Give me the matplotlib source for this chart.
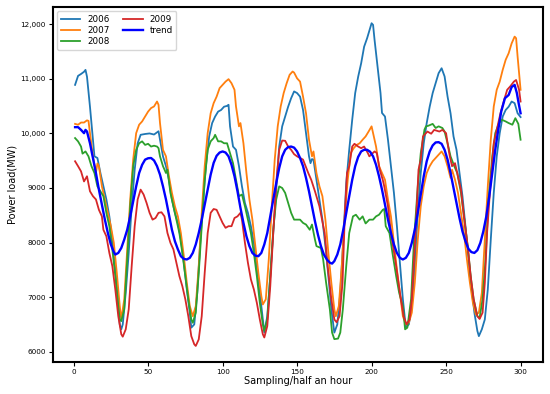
import numpy as np
import matplotlib.pyplot as plt

# values, (sample, MW)
s2006 = [(1, 10890), (3, 11055), (5, 11090), (7, 11130), (8, 11165), (9, 11040), (11, 10490), (13, 9885),
         (14, 9580), (16, 9550), (18, 9275), (20, 9030), (22, 8790), (24, 8480), (26, 8055), (28, 7505),
         (30, 6840), (31, 6500), (32, 6410), (33, 6500), (35, 7080), (37, 7810), (39, 8665), (41, 9335),
         (43, 9820), (45, 9975), (48, 9990), (51, 10000), (54, 9980), (57, 10040), (58, 9885), (60, 9580),
         (62, 9400), (64, 9150), (66, 8790), (68, 8545), (70, 8360), (72, 8055), (74, 7630), (76, 7140),
         (78, 6715), (79, 6440), (81, 6500), (83, 7080), (85, 7995), (87, 8790), (89, 9455), (91, 9945),
         (93, 10190), (95, 10310), (97, 10400), (99, 10430), (101, 10490), (103, 10505), (104, 10525),
         (105, 10130), (107, 9760), (109, 9700), (111, 9400), (113, 9030), (115, 8725), (117, 8545),
         (119, 8300), (121, 7995), (123, 7570), (125, 7080), (127, 6590), (128, 6350), (130, 6650),
         (132, 7385), (134, 8175), (136, 8970), (138, 9760), (140, 10130), (142, 10310), (144, 10490),
         (146, 10645), (148, 10770), (150, 10740), (152, 10675), (154, 10430), (156, 10005), (158, 9580),
         (159, 9455), (160, 9530), (161, 9520), (163, 9150), (165, 8790), (167, 8420), (169, 7935),
         (171, 7385), (173, 6775), (175, 6350), (177, 6500), (179, 7080), (181, 8055), (183, 9090),
         (185, 9700), (187, 10250), (189, 10740), (191, 11040), (193, 11285), (195, 11590), (197, 11745),
         (198, 11835), (200, 12020), (201, 11990), (202, 11715), (204, 11225), (206, 10740), (207, 10375),
         (209, 10310), (211, 9885), (213, 9400), (215, 8910), (217, 8300), (219, 7630), (221, 6960),
         (223, 6440), (225, 6500), (227, 6835), (229, 7570), (231, 8545), (233, 9275), (235, 9820),
         (237, 10190), (239, 10490), (241, 10740), (243, 10920), (245, 11105), (247, 11195), (249, 11045),
         (251, 10675), (253, 10370), (255, 9945), (257, 9700), (259, 9275), (261, 8850), (263, 8300),
         (265, 7750), (267, 7200), (269, 6715), (271, 6380), (272, 6285), (274, 6410), (276, 6590),
         (278, 7140), (280, 8055), (282, 8910), (284, 9580), (286, 10005), (288, 10310), (290, 10430),
         (292, 10490), (294, 10585), (296, 10555), (298, 10370), (300, 10300)]

s2007 = [(1, 10175), (3, 10160), (5, 10200), (7, 10200), (9, 10240), (10, 10230), (11, 10005), (13, 9580),
         (15, 9275), (16, 9450), (17, 9400), (19, 9030), (21, 8790), (23, 8545), (25, 8300), (27, 7995),
         (29, 7445), (31, 6835), (32, 6590), (34, 6960), (36, 7875), (38, 8790), (40, 9520), (42, 10005),
         (44, 10160), (46, 10220), (48, 10310), (50, 10400), (52, 10465), (54, 10495), (56, 10585),
         (57, 10525), (58, 10190), (60, 9700), (62, 9580), (64, 9215), (66, 8910), (68, 8665), (70, 8480),
         (72, 8175), (74, 7750), (76, 7260), (78, 6835), (80, 6650), (82, 6835), (84, 7570), (86, 8545),
         (88, 9400), (90, 10005), (92, 10370), (94, 10555), (96, 10675), (98, 10830), (100, 10890),
         (102, 10950), (104, 10995), (106, 10920), (108, 10800), (109, 10495), (111, 10130), (112, 10190),
         (114, 9820), (116, 9275), (118, 8790), (120, 8420), (122, 7935), (124, 7445), (126, 7020),
         (127, 6865), (129, 6960), (131, 7690), (133, 8665), (135, 9520), (137, 10130), (139, 10495),
         (141, 10740), (143, 10920), (145, 11075), (147, 11135), (148, 11115), (150, 11010), (152, 10950),
         (154, 10675), (156, 10370), (158, 9885), (160, 9580), (161, 9670), (163, 9275), (165, 9030),
         (167, 8850), (169, 8420), (171, 7810), (173, 7260), (175, 6775), (176, 6650), (178, 6835),
         (180, 7570), (182, 8480), (184, 9150), (186, 9640), (188, 9730), (190, 9790), (192, 9820),
         (194, 9885), (196, 9945), (198, 10035), (200, 10130), (201, 10005), (203, 9760), (205, 9400),
         (207, 9275), (209, 9150), (211, 8790), (213, 8480), (215, 7995), (217, 7505), (219, 7080),
         (221, 6650), (223, 6500), (225, 6530), (227, 6715), (229, 7260), (231, 8055), (233, 8665),
         (235, 9030), (237, 9275), (239, 9400), (241, 9490), (243, 9550), (245, 9610), (247, 9670),
         (249, 9580), (251, 9400), (253, 9185), (254, 9335), (256, 9150), (258, 8910), (260, 8545),
         (262, 8175), (264, 7690), (266, 7260), (268, 6895), (270, 6680), (272, 6715), (274, 7080),
         (276, 8055), (278, 9030), (280, 9885), (282, 10495), (284, 10800), (286, 10950), (288, 11165),
         (290, 11350), (292, 11470), (294, 11650), (296, 11775), (297, 11745), (298, 11410), (300, 10800)]

s2008 = [(1, 9915), (3, 9855), (5, 9760), (6, 9630), (8, 9670), (10, 9580), (12, 9400), (14, 9275),
         (16, 9030), (18, 8940), (20, 8850), (22, 8545), (24, 8300), (26, 7875), (28, 7385), (30, 6835),
         (31, 6590), (32, 6560), (34, 6775), (36, 7690), (38, 8665), (40, 9400), (42, 9700), (44, 9820),
         (46, 9855), (48, 9790), (50, 9810), (52, 9760), (54, 9775), (56, 9760), (57, 9730), (58, 9580),
         (60, 9400), (62, 9275), (63, 9335), (65, 8910), (67, 8665), (69, 8420), (71, 8175), (73, 7810),
         (75, 7385), (77, 6960), (79, 6590), (80, 6530), (82, 6715), (84, 7445), (86, 8300), (88, 9150),
         (90, 9700), (92, 9855), (94, 9915), (95, 9975), (97, 9855), (99, 9855), (101, 9820), (103, 9820),
         (105, 9640), (107, 9455), (109, 9150), (111, 8850), (113, 8880), (115, 8665), (117, 8420),
         (119, 8175), (121, 7810), (123, 7385), (125, 6895), (127, 6500), (128, 6380), (130, 6590),
         (132, 7385), (134, 8235), (136, 8790), (138, 9030), (140, 9000), (142, 8910), (144, 8725),
         (146, 8545), (148, 8420), (152, 8420), (154, 8360), (156, 8330), (158.5, 8235), (160, 8330),
         (162, 8055), (163, 7935), (166, 7900), (167.5, 7690), (169.5, 7260), (172, 6775), (173.5, 6350),
         (175, 6230), (177.5, 6240), (179, 6350), (180.7, 6775), (183, 7570), (185, 8175), (187.5, 8480),
         (189.5, 8510), (192, 8420), (194, 8480), (196, 8350), (198.5, 8420), (201, 8420), (203, 8480),
         (205, 8510), (207.5, 8600), (208.5, 8615), (209.5, 8300), (212, 8175), (214, 7810), (216.5, 7385),
         (218.5, 7080), (221, 6835), (222.5, 6410), (224, 6440), (226.5, 6960), (228.5, 8055), (231, 9030),
         (233, 9640), (235.5, 10070), (236.5, 10130), (238, 10140), (241, 10175), (243, 10100),
         (245, 10130), (247.5, 10100), (249, 10035), (251, 9820), (253, 9580), (255.5, 9400),
         (257.5, 9275), (260, 8910), (262, 8480), (264.5, 7935), (266.5, 7385), (268.5, 6960),
         (271, 6650), (272.5, 6620), (274.5, 6960), (276.5, 7690), (278.5, 8790), (281, 9580),
         (283, 10005), (285.5, 10190), (287.5, 10250), (290, 10220), (292, 10190), (294.5, 10160),
         (296.5, 10280), (298.5, 10175), (300, 9885)]

s2009 = [(1, 9490), (3, 9400), (5, 9305), (7, 9120), (9, 9215), (11, 8940), (13, 8850), (15, 8790),
         (17, 8600), (19, 8480), (20, 8235), (22, 8115), (24, 7810), (26, 7570), (28, 7140), (30, 6650),
         (32, 6320), (33, 6275), (35, 6410), (37, 6775), (39, 7570), (41, 8300), (43, 8790), (45, 8970),
         (47, 8880), (49, 8725), (51, 8545), (53, 8420), (55, 8450), (57, 8545), (59, 8555), (61, 8480),
         (63, 8175), (65, 7995), (67, 7875), (69, 7630), (71, 7385), (73, 7200), (75, 6960), (77, 6650),
         (79, 6285), (81, 6135), (82, 6105), (84, 6225), (86, 6650), (88, 7445), (90, 8175), (92, 8545),
         (94, 8615), (96, 8600), (98, 8480), (100, 8360), (102, 8270), (104, 8300), (106, 8300),
         (108, 8450), (110, 8480), (112, 8545), (113, 8420), (115, 7995), (117, 7630), (119, 7325),
         (121, 7140), (123, 6895), (125, 6590), (127, 6320), (128, 6260), (130, 6470), (132, 7200),
         (134, 8175), (136, 9090), (138, 9700), (140, 9870), (142, 9865), (144, 9760), (146, 9700),
         (148, 9620), (150, 9580), (154, 9520), (157.5, 9275), (159.5, 9150), (162, 8940), (165, 8665),
         (168.5, 8175), (170.5, 7570), (173, 6960), (175, 6590), (176.5, 6540), (178.5, 6650),
         (180.5, 7260), (182, 8480), (183.5, 9275), (185, 9400), (187, 9760), (188.5, 9810), (191, 9760),
         (193, 9730), (195, 9760), (197.5, 9640), (198.5, 9580), (202, 9670), (203.5, 9640),
         (205.5, 9335), (207.5, 9150), (208.5, 9030), (211, 8665), (213, 8175), (216.5, 7570),
         (219, 7080), (221.5, 6650), (223.5, 6500), (225.5, 6590), (227, 6960), (229.5, 8175),
         (231.5, 9335), (233, 9520), (234.5, 9945), (237.5, 10035), (240, 9995), (242, 10065),
         (245.5, 10035), (247.5, 10065), (250, 10005), (251, 9820), (252.5, 9580), (254, 9400),
         (256, 9455), (257.5, 9275), (260, 8970), (262, 8480), (264.5, 7935), (266.5, 7385),
         (268.5, 6960), (271, 6650), (272.5, 6600), (274.5, 6715), (276, 7260), (277.5, 8175),
         (280, 9150), (282, 9820), (284.5, 10130), (286.5, 10370), (289, 10615), (291, 10800),
         (293, 10860), (295.5, 10950), (297, 10980), (299, 10800), (300, 10585)]

trend = [(1, 10115), (3, 10115), (5, 10065), (7, 10005), (8, 10065), (9, 10035), (11, 9820), (13, 9550),
         (15, 9275), (17, 8970), (19, 8695), (21, 8420), (23, 8175), (25, 7965), (27, 7825), (28, 7780),
         (30, 7810), (32, 7900), (34, 8055), (36, 8235), (38, 8480), (40, 8755), (42, 9030), (44, 9275),
         (46, 9425), (48, 9520), (50, 9545), (52, 9550), (54, 9505), (56, 9400), (58, 9245), (60, 9030),
         (62, 8790), (64, 8510), (66, 8235), (68, 8025), (70, 7875), (72, 7750), (74, 7700), (76, 7690),
         (78, 7720), (80, 7810), (82, 7965), (84, 8175), (86, 8420), (88, 8695), (90, 8970), (92, 9245),
         (94, 9460), (96, 9590), (98, 9650), (100, 9670), (102, 9650), (104, 9580), (106, 9425),
         (108, 9215), (110, 8940), (112, 8635), (114, 8360), (116, 8115), (118, 7935), (120, 7810),
         (122, 7760), (124, 7750), (126, 7810), (128, 7965), (130, 8175), (132, 8480), (134, 8790),
         (136, 9090), (138, 9365), (140, 9580), (142, 9700), (144, 9750), (146, 9760), (148, 9740),
         (150, 9670), (152, 9550), (154, 9400), (156, 9185), (158, 8940), (160, 8665), (162, 8390),
         (164, 8145), (166, 7935), (168, 7780), (170, 7690), (172, 7630), (173.5, 7615), (175, 7660),
         (177, 7780), (179, 7965), (181, 8235), (183, 8545), (185, 8850), (187, 9150), (189, 9400),
         (191, 9570), (193, 9670), (195, 9700), (197, 9700), (199, 9665), (201, 9580), (203, 9425),
         (205, 9215), (207, 8970), (209, 8695), (211, 8420), (213, 8175), (215, 7965), (217, 7810),
         (219, 7720), (221, 7690), (223, 7720), (225, 7810), (227, 7995), (229, 8235), (231, 8545),
         (233, 8880), (235, 9215), (237, 9490), (239, 9670), (241, 9780), (243, 9835), (245, 9840),
         (247, 9810), (249, 9700), (251, 9520), (253, 9275), (255, 9000), (257, 8725), (259, 8450),
         (261, 8205), (263, 8025), (265, 7885), (267, 7825), (269, 7810), (271, 7860), (273, 7995),
         (275, 8205), (277, 8480), (279, 8850), (281, 9275), (283, 9700), (285, 10065), (287, 10400),
         (288.3, 10525), (289.5, 10645), (292, 10705), (294, 10850), (296, 10890), (297.5, 10740),
         (298.7, 10555), (300, 10370)]

y_ticks = [6000, 7000, 8000, 9000, 10000, 11000, 12000]
y_tick_labels = ['6000', '7000', '8000', '9000', '10,000', '11,000', '12,000']
x_ticks = [0, 50, 100, 150, 200, 250, 300]

fig = plt.figure(figsize=(5.5, 3.94), dpi=100)
ax = fig.add_axes([0.096, 0.081, 0.891, 0.901])

series = [('2006', s2006, '#1f77b4', 1.3),
          ('2007', s2007, '#ff7f0e', 1.3),
          ('2008', s2008, '#2ca02c', 1.3),
          ('2009', s2009, '#d62728', 1.3),
          ('trend', trend, 'blue', 1.7)]
for name, pts, col, lw in series:
    arr = np.array(pts)
    ax.plot(arr[:, 0], arr[:, 1], color=col, lw=lw, label=name)

ax.set_xticks(x_ticks)
ax.set_yticks(y_ticks)
ax.set_yticklabels(y_tick_labels)
ax.tick_params(axis='both', labelsize=5.2, length=3, width=0.8, pad=2)
for sp in ax.spines.values():
    sp.set_linewidth(1.5)
ax.set_xlabel('Sampling/half an hour', fontsize=7, labelpad=1)
ax.set_ylabel('Power load(MW)', fontsize=7, labelpad=2)
ax.legend(loc='upper left', ncol=2, fontsize=6.3, handlelength=2.2,
          columnspacing=1.6, labelspacing=0.25, borderpad=0.4)

fig.savefig('out.png', dpi=100)
